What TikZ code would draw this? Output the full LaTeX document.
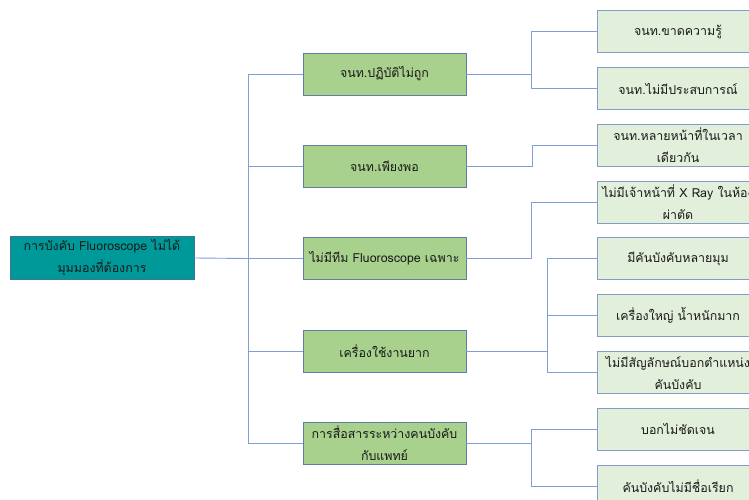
\documentclass[tikz,border=0pt]{standalone}
\usepackage{fontspec}
\newfontfamily\thaifont[Script=Thai]{Loma}
\definecolor{rootfill}{RGB}{0,153,153}
\definecolor{rootdraw}{RGB}{65,113,156}
\definecolor{midfill}{RGB}{169,209,142}
\definecolor{middraw}{RGB}{96,125,165}
\definecolor{leaffill}{RGB}{226,239,218}
\definecolor{leafdraw}{RGB}{132,156,200}
\definecolor{linkcol}{RGB}{127,157,215}
\begin{document}
\begin{tikzpicture}[x=1pt,y=-1pt,
  every node/.style={font=\thaifont\fontsize{12.4}{22}\selectfont, text=black!90, align=center, inner sep=0pt},
  rootbox/.style={draw=rootdraw, fill=rootfill, line width=0.9pt, minimum width=184pt, minimum height=43pt},
  midbox/.style={draw=middraw, fill=midfill, line width=0.9pt, minimum width=163pt, minimum height=42pt},
  leafbox/.style={draw=leafdraw, fill=leaffill, line width=0.9pt, minimum width=162pt, minimum height=42pt},
  link/.style={draw=linkcol, line width=0.9pt}]
\useasboundingbox (0,0) rectangle (749,500);
\fill[white] (0,0) rectangle (749,500);

\node[rootbox] (r) at (102,258) {การบังคับ Fluoroscope ไม่ได้\\มุมมองที่ต้องการ};

\node[midbox] (a1) at (384.5,74) {จนท.ปฏิบัติไม่ถูก};
\node[midbox] (a2) at (384.5,166) {จนท.เพียงพอ};
\node[midbox] (a3) at (384.5,258.5) {ไม่มีทีม Fluoroscope เฉพาะ};
\node[midbox] (a4) at (384.5,351) {เครื่องใช้งานยาก};
\node[midbox] (a5) at (384.5,443.5) {การสื่อสารระหว่างคนบังคับ\\กับแพทย์};

\node[leafbox] (b1) at (678,31.5) {จนท.ขาดความรู้};
\node[leafbox] (b2) at (678,88.5) {จนท.ไม่มีประสบการณ์};
\node[leafbox] (b3) at (678,145.5) {จนท.หลายหน้าที่ในเวลา\\เดียวกัน};
\node[leafbox] (b4) at (678,202) {ไม่มีเจ้าหน้าที่ X Ray ในห้อง\\ผ่าตัด};
\node[leafbox] (b5) at (678,258.5) {มีคันบังคับหลายมุม};
\node[leafbox] (b6) at (678,315.5) {เครื่องใหญ่ น้ำหนักมาก};
\node[leafbox] (b7) at (678,372.5) {ไม่มีสัญลักษณ์บอกตำแหน่ง\\คันบังคับ};
\node[leafbox] (b8) at (678,429) {บอกไม่ชัดเจน};
\node[leafbox] (b9) at (678,486) {คันบังคับไม่มีชื่อเรียก};

% root to level 1
\coordinate (t) at (248,258.5);
\draw[link] (r.east) -- (t);
\foreach \n in {a1,a2,a3,a4,a5} \draw[link] (t) |- (\n.west);

% level 1 to level 2
\coordinate (j1) at (531,74);
\draw[link] (a1.east) -- (j1);
\draw[link] (j1) |- (b1.west);
\draw[link] (j1) |- (b2.west);

\coordinate (j2) at (532,166);
\draw[link] (a2.east) -- (j2) |- (b3.west);

\coordinate (j3) at (531,258.5);
\draw[link] (a3.east) -- (j3) |- (b4.west);

\coordinate (j4) at (547,351);
\draw[link] (a4.east) -- (j4);
\foreach \n in {b5,b6,b7} \draw[link] (j4) |- (\n.west);

\coordinate (j5) at (531,443.5);
\draw[link] (a5.east) -- (j5);
\draw[link] (j5) |- (b8.west);
\draw[link] (j5) |- (b9.west);
\end{tikzpicture}
\end{document}
